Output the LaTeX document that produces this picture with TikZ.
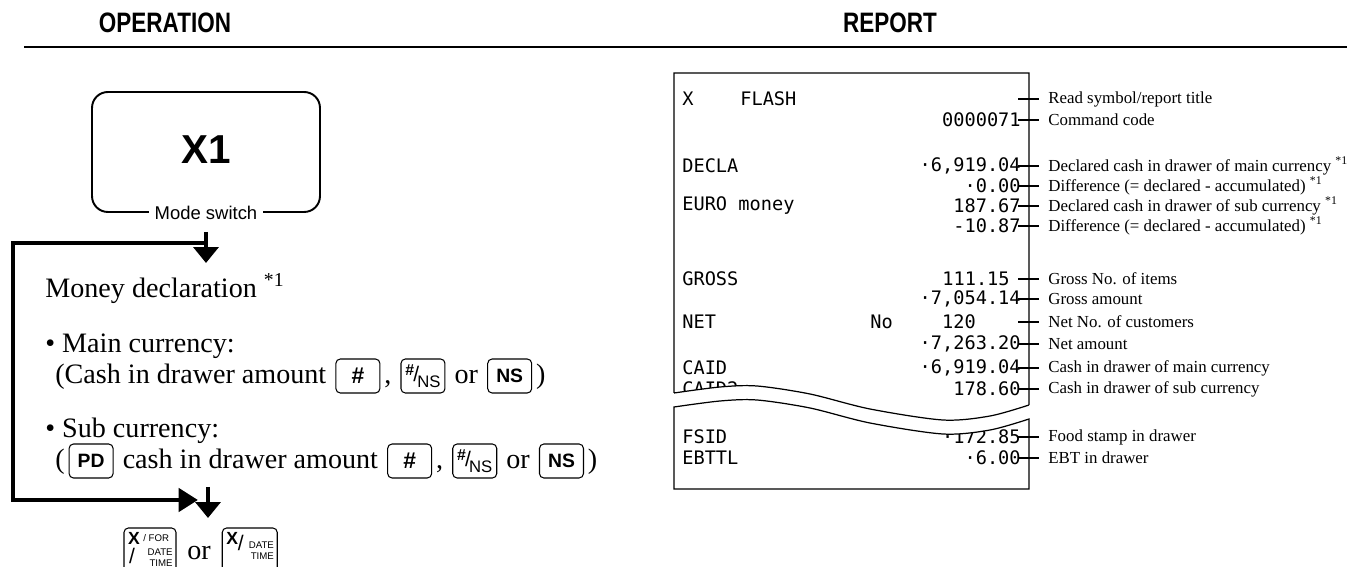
\documentclass[tikz,border=0pt]{standalone}
\usepackage{fontspec}
\usepackage{graphicx}
\setmainfont{Liberation Serif}
\setsansfont{Liberation Sans}
\newfontfamily\tillfont{DejaVu Sans Mono}
\usetikzlibrary{arrows.meta,positioning}

% slanted two-legend key face: top-left / bottom-right
\newcommand{\slashkey}[2]{\raisebox{3.5pt}{\fontsize{9}{9}\selectfont #1}\kern-0.5pt{\mdseries\fontsize{12}{12}\selectfont/}\kern-1pt\raisebox{-3.5pt}{\mdseries\fontsize{9.5}{9.5}\selectfont #2}}

\begin{document}
\begin{tikzpicture}[x=0.02cm,y=-0.02cm,line join=miter,
  hdr/.style={font=\sffamily\bfseries\fontsize{16}{18}\selectfont,inner sep=0pt},
  optext/.style={font=\fontsize{16}{19}\selectfont,inner sep=0pt,text height=11.5pt,text depth=3.5pt},
  key/.style={draw,rounded corners=2.5pt,line width=0.6pt,minimum width=0.88cm,minimum height=0.68cm,
    inner sep=0pt,font=\sffamily\bfseries\fontsize{11}{12}\selectfont},
  keytiny/.style={inner sep=0pt,font=\sffamily\fontsize{5.5}{6}\selectfont},
  flow/.style={line width=2.8pt},
  flowhead/.style={-{Triangle[length=9pt,width=14pt]}},
  till/.style={font=\tillfont\fontsize{10.6}{12}\selectfont,inner sep=0pt},
  note/.style={font=\fontsize{9.6}{11}\selectfont,inner sep=0pt,anchor=west}]
  \useasboundingbox (0,0) rectangle (1347,567);

  % headings
  \node[hdr] (ophead) at (165,23) {\scalebox{0.8}[1]{OPERATION}};
  \node[hdr] (rphead) at (890,23) {\scalebox{0.8}[1]{REPORT}};
  \coordinate (ruleL) at (24,47);
  \coordinate (ruleR) at (1347,47);
  \draw[line width=1.7pt] (ruleL) -- (ruleR);

  % mode switch
  \node[draw,rounded corners=9pt,line width=1.1pt,minimum width=4.56cm,minimum height=2.4cm] (modebox) at (206,152) {};
  \node[font=\sffamily\bfseries\fontsize{23}{26}\selectfont] (modekey) at (206,150) {X1};
  \node[fill=white,inner sep=3pt,font=\sffamily\fontsize{10.5}{12}\selectfont] (modelbl) at (modebox.south) {Mode switch};

  % flow arrows
  \coordinate (startA) at (206,232);
  \coordinate (endA) at (206,263);
  \coordinate (joinA) at (206,243);
  \coordinate (bendtop) at (13,243);
  \coordinate (bendbot) at (13,500);
  \coordinate (tipB) at (198,500);
  \coordinate (startB) at (208,487);
  \coordinate (endB) at (208,518);
  \draw[flow,flowhead] (startA) -- (endA);
  \draw[flow,-{Triangle[length=11pt,width=13pt]}] (joinA) -- (bendtop) -- (bendbot) -- (tipB);
  \draw[flow,flowhead] (startB) -- (endB);

  % operation text
  \node[optext,anchor=west] (moneydecl) at (45,290) {Money declaration \textsuperscript{*1}};
  \node[optext,anchor=west] (mainhd) at (45,345) {\textbullet\ Main currency:};
  \node[optext,anchor=west] (maintxt) at (55,376) {(Cash in drawer amount};
  \node[key,right=5pt of maintxt,font=\sffamily\bfseries\fontsize{13}{13}\selectfont] (mainhash) {\#};
  \node[optext,right=2pt of mainhash] (maincomma) {,};
  \node[key,right=5pt of maincomma] (mainfrac) {\slashkey{\#}{NS}};
  \node[optext,right=5pt of mainfrac] (mainor) {or};
  \node[key,right=5pt of mainor] (mainns) {NS};
  \node[optext,right=2pt of mainns] (mainclose) {)};

  \node[optext,anchor=west] (subhd) at (45,430) {\textbullet\ Sub currency:};
  \node[optext,anchor=west] (subopen) at (55,461) {(};
  \node[key,right=2pt of subopen] (subpd) {PD};
  \node[optext,right=5pt of subpd] (subtxt) {cash in drawer amount};
  \node[key,right=5pt of subtxt,font=\sffamily\bfseries\fontsize{13}{13}\selectfont] (subhash) {\#};
  \node[optext,right=2pt of subhash] (subcomma) {,};
  \node[key,right=5pt of subcomma] (subfrac) {\slashkey{\#}{NS}};
  \node[optext,right=5pt of subfrac] (subor) {or};
  \node[key,right=5pt of subor] (subns) {NS};
  \node[optext,right=2pt of subns] (subclose) {)};

  % closing keys
  \node[key,minimum width=1.04cm,minimum height=0.96cm] (kxfor) at (150,552) {};
  \node[inner sep=0pt,font=\sffamily\bfseries\fontsize{10}{11}\selectfont,anchor=north west] (kxforX) at ([xshift=2.5pt,yshift=-2.5pt]kxfor.north west) {X};
  \node[keytiny,right=1.5pt of kxforX] (kxforF) {/ FOR};
  \node[inner sep=0pt,font=\sffamily\fontsize{12}{12}\selectfont,anchor=north west] (kxforS) at ([xshift=3pt,yshift=-11.5pt]kxfor.north west) {/};
  \node[keytiny,align=right,anchor=north east] (kxforD) at ([xshift=-2pt,yshift=-12pt]kxfor.north east) {DATE\\TIME};
  \node[optext,right=6pt of kxfor] (botor) {or};
  \node[key,minimum width=1.1cm,minimum height=0.96cm,right=6pt of botor] (kxdate) {};
  \node[inner sep=0pt,font=\sffamily\bfseries\fontsize{10}{11}\selectfont,anchor=north west] (kxdateX) at ([xshift=2.5pt,yshift=-2.5pt]kxdate.north west) {X};
  \node[inner sep=0pt,font=\sffamily\fontsize{12}{12}\selectfont,anchor=north west] (kxdateS) at ([xshift=9pt,yshift=-4pt]kxdate.north west) {/};
  \node[keytiny,align=right,anchor=north east] (kxdateD) at ([xshift=-2pt,yshift=-8pt]kxdate.north east) {DATE\\TIME};

  % receipt
  \pgfmathsetmacro{\rl}{674}
  \pgfmathsetmacro{\rr}{1029}
  \pgfmathsetmacro{\rt}{73}
  \pgfmathsetmacro{\rb}{489}
  \foreach \n/\y/\lbl in {1/99/X,3/166/DECLA,5/206/EURO money,7/279/GROSS,9/322/NET,11/368/CAID,12/389/CAID2,13/437/FSID,14/458/EBTTL}
    \node[till,anchor=west] (rcl\n) at (682,\y) {\lbl};
  \node[till,anchor=west] (rcflash) at (740,99) {FLASH};
  \node[till,anchor=west] (rcno) at (870,322) {No};
  \node[till] (rcnet) at (959,322) {120};
  \node[till,anchor=east] (rcgross) at (1010,279) {111.15};
  \foreach \n/\y/\val in {2/120/0000071,3/166/{·6,919.04},4/186/·0.00,5/206/187.67,6/226/-10.87,
      8/299/{·7,054.14},10/344/{·7,263.20},11/368/{·6,919.04},12/389/178.60,13/437/·172.85,14/458/·6.00}
    \node[till,anchor=east] (rcv\n) at (1021,\y) {\val};

  % torn part
  \fill[white] plot[smooth] coordinates {(\rl,393) (720,387) (757,386) (810,394) (870,409) (943,420) (990,416) (\rr,405)}
    -- plot[smooth] coordinates {(\rr,419) (990,430) (943,434) (870,423) (810,408) (757,400) (720,401) (\rl,407)} -- cycle;
  \draw[line width=0.7pt] (\rl,393) -- (\rl,\rt) -- (\rr,\rt) -- (\rr,405) plot[smooth] coordinates {(\rr,405) (990,416) (943,420) (870,409) (810,394) (757,386) (720,387) (\rl,393)};
  \draw[line width=0.7pt] (\rl,407) plot[smooth] coordinates {(\rl,407) (720,401) (757,400) (810,408) (870,423) (943,434) (990,430) (\rr,419)} -- (\rr,\rb) -- (\rl,\rb) -- cycle;

  % callouts
  \foreach \n/\y/\txt in {1/99/{Read symbol/report title},2/120/{Command code},
      3/166/{Declared cash in drawer of main currency \textsuperscript{*1}},
      4/186/{Difference (= declared - accumulated) \textsuperscript{*1}},
      5/206/{Declared cash in drawer of sub currency \textsuperscript{*1}},
      6/226/{Difference (= declared - accumulated) \textsuperscript{*1}},
      7/279/{Gross No. of items},8/299/{Gross amount},9/322/{Net No. of customers},
      10/344/{Net amount},11/368/{Cash in drawer of main currency},
      12/389/{Cash in drawer of sub currency},13/437/{Food stamp in drawer},14/458/{EBT in drawer}}{
    \node[note] (lbl\n) at (1048,\y) {\txt};
    \coordinate (tk\n) at (1018,\y);
    \draw[line width=0.6pt,shorten >=5pt] (tk\n) -- (lbl\n.west);
  }
\end{tikzpicture}
\end{document}
